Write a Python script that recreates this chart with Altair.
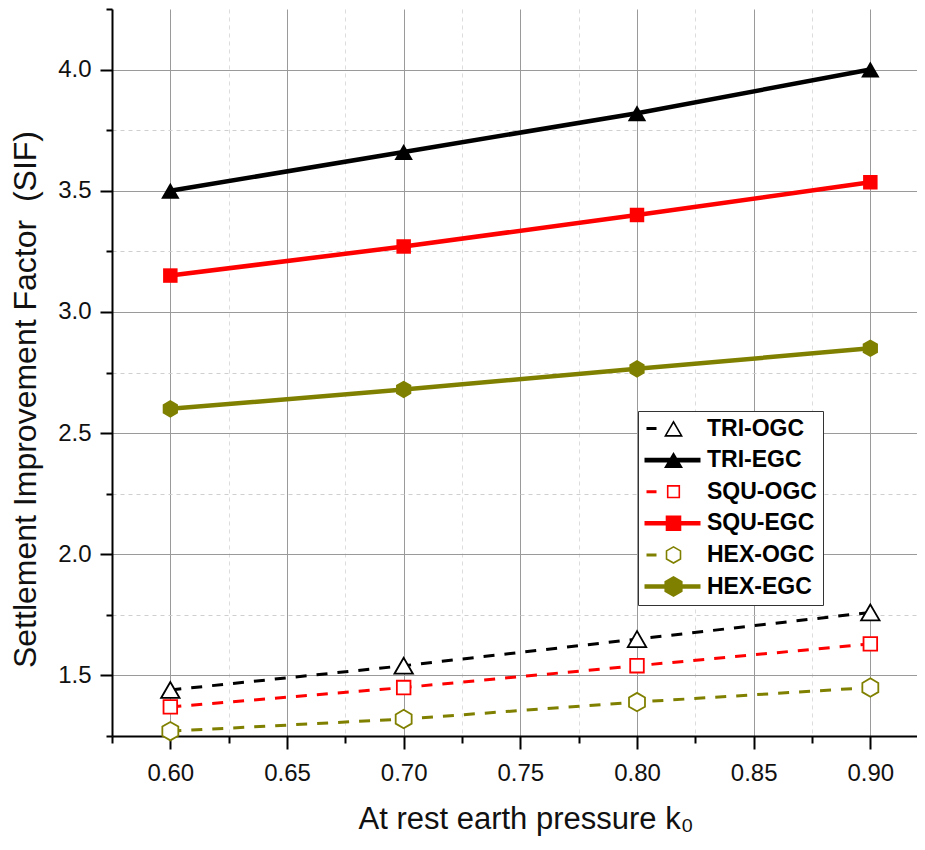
import altair as alt
import pandas as pd

# ---------------- data ----------------
k0 = [0.60, 0.70, 0.80, 0.90]
series_names = ["TRI-OGC", "TRI-EGC", "SQU-OGC", "SQU-EGC", "HEX-OGC", "HEX-EGC"]
tri_ogc = [1.44, 1.54, 1.65, 1.76]
tri_egc = [3.50, 3.66, 3.82, 4.00]
squ_ogc = [1.37, 1.45, 1.54, 1.63]
squ_egc = [3.15, 3.27, 3.40, 3.535]
hex_ogc = [1.27, 1.32, 1.39, 1.45]
hex_egc = [2.60, 2.68, 2.765, 2.85]
series_values = [tri_ogc, tri_egc, squ_ogc, squ_egc, hex_ogc, hex_egc]

x_ticks = [0.575, 0.60, 0.625, 0.65, 0.675, 0.70, 0.725, 0.75, 0.775,
           0.80, 0.825, 0.85, 0.875, 0.90]
y_ticks = [1.25, 1.5, 1.75, 2.0, 2.25, 2.5, 2.75, 3.0, 3.25, 3.5, 3.75, 4.0, 4.25]

# ---------------- styles ----------------
FONT = "Liberation Sans"
BLACK, RED, OLIVE = "#000000", "#ff0000", "#808000"
HEX_PATH = "M0,-1L0.866,-0.5L0.866,0.5L0,1L-0.866,0.5L-0.866,-0.5Z"
styles = {
    "TRI-OGC": dict(color=BLACK, dashed=True, shape="triangle-up", size=340, filled=False),
    "TRI-EGC": dict(color=BLACK, dashed=False, shape="triangle-up", size=340, filled=True),
    "SQU-OGC": dict(color=RED, dashed=True, shape="square", size=185, filled=False),
    "SQU-EGC": dict(color=RED, dashed=False, shape="square", size=210, filled=True),
    "HEX-OGC": dict(color=OLIVE, dashed=True, shape=HEX_PATH, size=340, filled=False),
    "HEX-EGC": dict(color=OLIVE, dashed=False, shape=HEX_PATH, size=310, filled=True),
}

x_scale = alt.Scale(domain=[0.575, 0.92], nice=False, zero=False)
y_scale = alt.Scale(domain=[1.25, 4.25], nice=False, zero=False)

X_MAJ = "abs(datum.value*20 - round(datum.value*20)) < 0.001"
Y_MAJ = "abs(datum.value*2 - round(datum.value*2)) < 0.001"

x_axis = alt.Axis(
    values=x_ticks,
    labelExpr=X_MAJ + " ? format(datum.value, '.2f') : ''",
    labelFont=FONT, labelFontSize=24, labelColor="#111111",
    labelBaseline="alphabetic", labelPadding=31, labelFlush=False, labelOverlap=False,
    tickSize=13, tickWidth=2, tickColor="#000000",
    tickDash={"condition": {"test": X_MAJ, "value": [30, 0]}, "value": [7, 40]},
    domainColor="#000000", domainWidth=2,
    grid=True,
    gridColor={"condition": {"test": X_MAJ, "value": "#9a9a9a"}, "value": "#dcdcdc"},
    gridDash={"condition": {"test": X_MAJ, "value": [2000, 0]}, "value": [4, 4]},
    gridWidth=1,
    title="At rest earth pressure k\u2080",
    titleFont=FONT, titleFontSize=31, titleFontWeight="normal", titleColor="#111111",
    titleX=246, titleY=92, titleAlign="left", titleBaseline="alphabetic",
)

y_axis = alt.Axis(
    values=y_ticks,
    labelExpr=Y_MAJ + " ? format(datum.value, '.1f') : ''",
    labelFont=FONT, labelFontSize=24, labelColor="#111111",
    labelPadding=9, labelOverlap=False, labelFlush=False,
    tickSize=12, tickWidth=2, tickColor="#000000",
    tickDash={"condition": {"test": Y_MAJ, "value": [30, 0]}, "value": [6, 40]},
    domainColor="#000000", domainWidth=2,
    grid=True,
    gridColor={"condition": {"test": Y_MAJ, "value": "#9a9a9a"}, "value": "#cfcfcf"},
    gridDash={"condition": {"test": Y_MAJ, "value": [2000, 0]}, "value": [4, 4]},
    gridOpacity={"condition": {"test": "datum.value > 4.2", "value": 0}, "value": 1},
    gridWidth=1,
    title="Settlement Improvement Factor\u00a0\u00a0(SIF)",
    titleFont=FONT, titleFontSize=32, titleFontWeight="normal", titleColor="#111111",
    titleAngle=270, titleX=-77, titleY=390, titleAlign="center", titleBaseline="alphabetic",
)

layers = []
for name, vals in zip(series_names, series_values):
    st = styles[name]
    df = pd.DataFrame({"k0": k0, "sif": vals, "series": name})
    enc = dict(
        x=alt.X("k0:Q", scale=x_scale, axis=x_axis),
        y=alt.Y("sif:Q", scale=y_scale, axis=y_axis),
    )
    line_kw = dict(color=st["color"], strokeWidth=3 if st["dashed"] else 4.5)
    if st["dashed"]:
        line_kw["strokeDash"] = [11, 10]
    layers.append(alt.Chart(df).mark_line(**line_kw).encode(**enc))
    if st["filled"]:
        pt = alt.Chart(df).mark_point(shape=st["shape"], size=st["size"], filled=True,
                                      color=st["color"], opacity=1, strokeWidth=0)
    else:
        pt = alt.Chart(df).mark_point(shape=st["shape"], size=st["size"], filled=True,
                                      fill="white", stroke=st["color"], strokeWidth=1.8, opacity=1)
    layers.append(pt.encode(**enc))

# ---------------- legend (symbol paths: line segment + marker) ----------------
MX = 18.0


def poly(pts):
    return "M" + "L".join(f"{x:.2f},{y:.2f}" for x, y in pts) + "Z"


def rect(x0, x1, h):
    return poly([(x0, -h), (x1, -h), (x1, h), (x0, h)])


def ring(pts, cx, cy, k):
    inner = [(cx + (x - cx) * k, cy + (y - cy) * k) for x, y in pts]
    return poly(pts) + poly(list(reversed(inner)))


def tri(w, h):
    return [(MX, -h), (MX + w, h), (MX - w, h)]


def sq(s):
    return [(MX - s, -s), (MX + s, -s), (MX + s, s), (MX - s, s)]


def hexa(r):
    c = 0.866 * r
    return [(MX, -r), (MX + c, -r / 2), (MX + c, r / 2), (MX, r), (MX - c, r / 2), (MX - c, -r / 2)]


solid = rect(-11, 45, 2.3)
dash = rect(-9, 1, 1.5)
t = 1.6
leg_paths = [
    dash + ring(tri(9.5, 8.2), MX, 8.2 / 3, (2 * 8.2 / 3 - t) / (2 * 8.2 / 3)),
    solid + poly(tri(9.5, 8.0)),
    dash + ring(sq(6.6), MX, 0, (6.6 - t) / 6.6),
    solid + poly(sq(7.8)),
    dash + ring(hexa(9.0), MX, 0, (9.0 * 0.866 - t) / (9.0 * 0.866)),
    solid + poly(hexa(10.5)),
]
leg_colors = [BLACK, BLACK, RED, RED, OLIVE, OLIVE]

legend_df = pd.DataFrame({"series": series_names})
legend_layer = alt.Chart(legend_df).transform_filter("false").mark_point(filled=True, opacity=1).encode(
    color=alt.Color("series:N", scale=alt.Scale(domain=series_names, range=leg_colors),
                    legend=alt.Legend(
                        title=None, orient="none", legendX=526, legendY=402,
                        labelFont=FONT, labelFontSize=23, labelFontWeight="bold",
                        labelColor="#000000", labelOffset=40, labelLimit=300,
                        padding=6, rowPadding=7.6,
                        fillColor="white", strokeColor="#333333",
                        symbolSize=4, symbolOpacity=1, symbolStrokeWidth=0,
                    )),
    shape=alt.Shape("series:N", scale=alt.Scale(domain=series_names, range=leg_paths)),
)
layers.append(legend_layer)

chart = alt.layer(*layers).properties(
    width=805,
    height=727,
    autosize=alt.AutoSizeParams(type="none"),
    padding={"left": 104, "top": 1, "right": 0, "bottom": 102},
    background="white",
).configure_view(stroke=None)

chart.save("out.html", embed_options={"renderer": "svg", "actions": False})
